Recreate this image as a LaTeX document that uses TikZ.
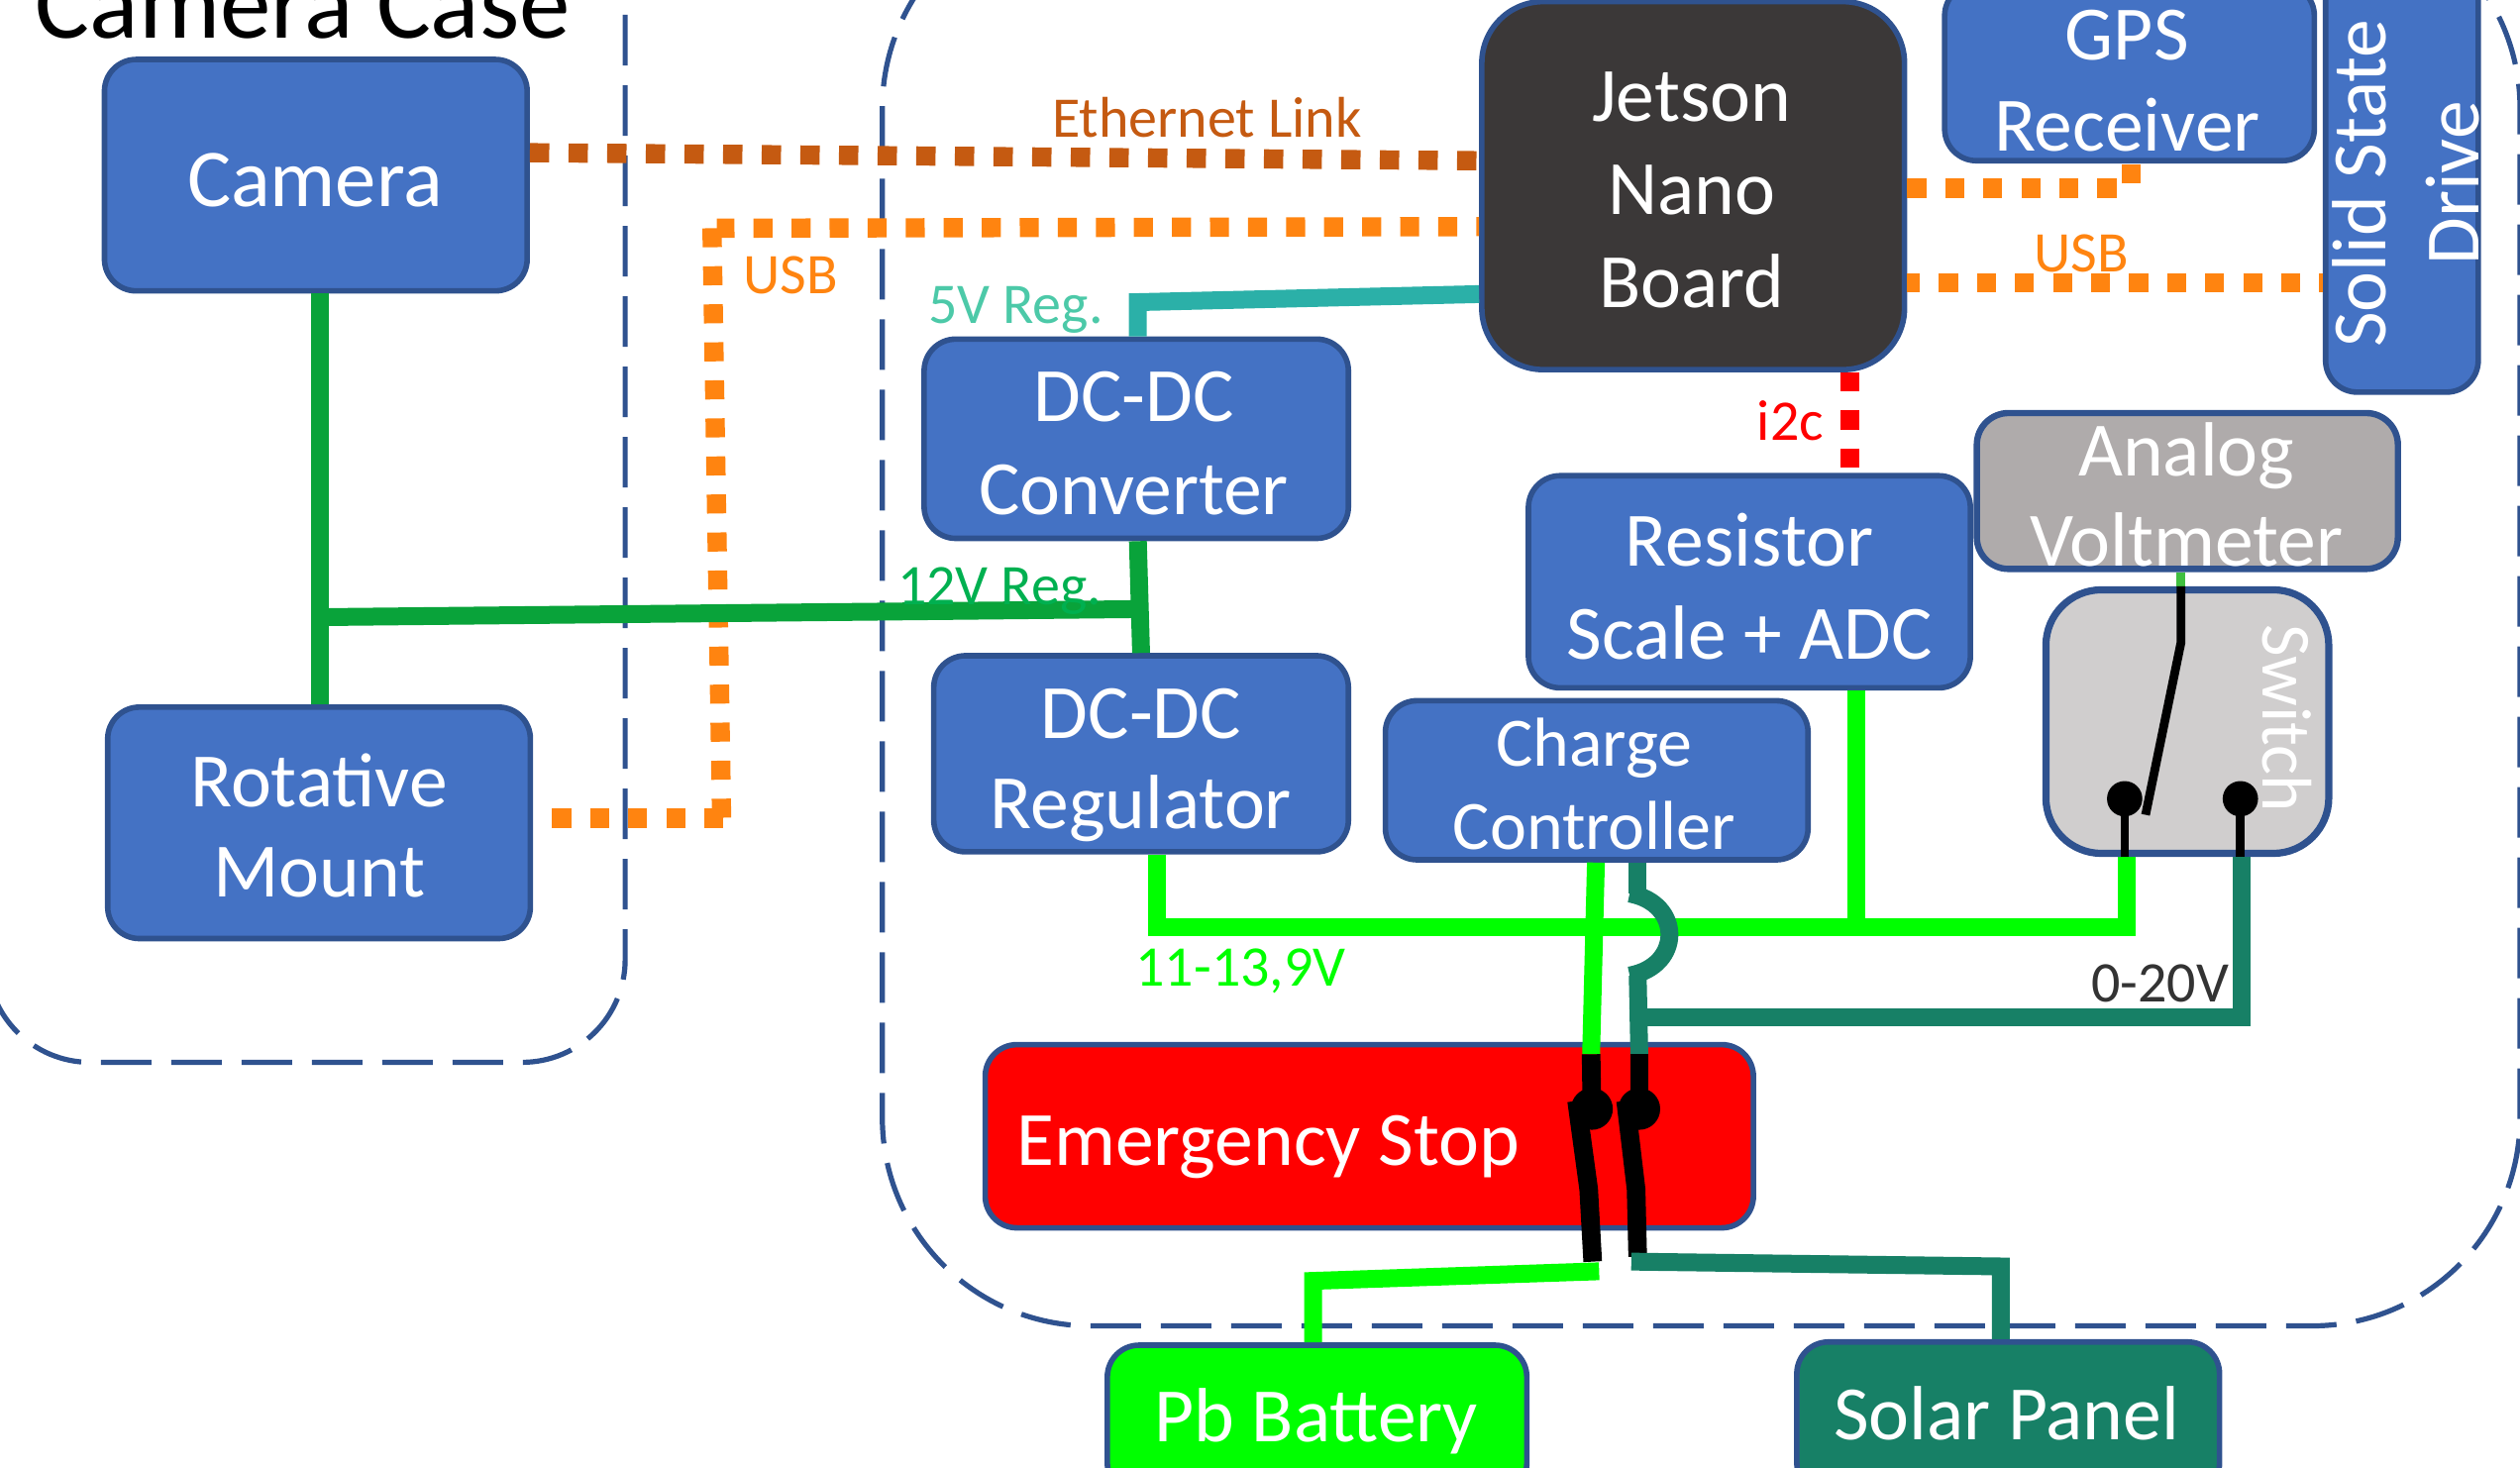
\documentclass[tikz,border=0pt]{standalone}
\usepackage{fontspec}
\setmainfont{Carlito}
\definecolor{boxblue}{HTML}{4472C4}
\definecolor{edgeblue}{HTML}{2F528F}
\definecolor{jetsongrey}{HTML}{3B3838}
\definecolor{metergrey}{HTML}{AFABAB}
\definecolor{switchgrey}{HTML}{D0CECE}
\definecolor{solarteal}{HTML}{178066}
\definecolor{eth}{HTML}{C55A11}
\definecolor{usb}{HTML}{FF8410}
\definecolor{reg5}{HTML}{2BB0A8}
\definecolor{reg5t}{HTML}{4CC9A8}
\definecolor{reg12}{HTML}{09A33A}
\definecolor{reg12t}{HTML}{00B050}
\definecolor{lime}{HTML}{00FF00}
\tikzset{
  box/.style={draw=edgeblue,line width=2.8pt,fill=boxblue,rounded corners=16pt,inner sep=0pt},
  boxtext/.style={inner sep=0pt,text=white,align=center,font=\fontsize{38.8}{47}\selectfont},
  case/.style={draw=edgeblue,line width=2.6pt,dash pattern=on 25.5pt off 10pt},
  dotted12/.style={line width=9.7pt,dash pattern=on 9.6pt off 9.6pt},
  wire/.style={line width=9pt,line join=miter},
  blackwire/.style={line width=9.4pt,draw=black},
  thinblack/.style={line width=4.4pt,draw=black},
  lbl/.style={inner sep=0pt,font=\fontsize{29}{34}\selectfont}
}
\begin{document}
\begin{tikzpicture}[x=0.8112pt,y=-0.8112pt]
\clip (0,0) rectangle (1568,912.9);
% enclosures
\draw[case,rounded corners=52pt] (-8,-60) rectangle (389,661);
\draw[case,rounded corners=105pt] (549,-62) rectangle (1568,825);
% boxes
\node[box,minimum width={263*0.8112pt},minimum height={144*0.8112pt}] (camera) at (196.5,109) {};
\node[box,minimum width={263*0.8112pt},minimum height={144*0.8112pt}] (rotative) at (198.5,512) {};
\node[box,fill=jetsongrey,rounded corners=31pt,minimum width={263*0.8112pt},minimum height={229*0.8112pt}] (jetson) at (1053.5,115.5) {};
\node[box,minimum width={230*0.8112pt},minimum height={110*0.8112pt}] (gps) at (1325,45) {};
\node[box,minimum width={95*0.8112pt},minimum height={264*0.8112pt}] (ssd) at (1494.5,112) {};
\node[box,minimum width={264*0.8112pt},minimum height={124*0.8112pt}] (conv) at (707,273) {};
\node[box,minimum width={258*0.8112pt},minimum height={122*0.8112pt}] (reg) at (710,469) {};
\node[box,minimum width={263*0.8112pt},minimum height={99*0.8112pt}] (charge) at (993.5,485.5) {};
\node[box,minimum width={275*0.8112pt},minimum height={132*0.8112pt}] (adc) at (1088.5,362) {};
\node[box,fill=metergrey,line width=3.2pt,minimum width={262*0.8112pt},minimum height={97*0.8112pt}] (meter) at (1361,305.5) {};
\node[box,fill=switchgrey,line width=3.6pt,rounded corners=28pt,minimum width={176*0.8112pt},minimum height={164*0.8112pt}] (switch) at (1361,449) {};
\node[box,fill=red,minimum width={478*0.8112pt},minimum height={114*0.8112pt}] (stop) at (852,707) {};
\node[box,fill=lime,minimum width={261*0.8112pt},minimum height={93*0.8112pt}] (battery) at (819.5,883.5) {};
\node[box,fill=solarteal,minimum width={263*0.8112pt},minimum height={95*0.8112pt}] (solar) at (1249.5,882.5) {};
% junction and free-end coordinates
\coordinate (j12) at (199,384);
\coordinate (k12) at (708,379);
\coordinate (g1) at (720,577);
\coordinate (g2) at (1323,577);
\coordinate (g3) at (1155,577);
\coordinate (t1) at (1020,633);
\coordinate (t2) at (1395,633);
\coordinate (e1) at (990,656);
\coordinate (e2) at (1020,656);
\coordinate (c1) at (990.5,690);
\coordinate (c2) at (1020,690);
\coordinate (o1) at (991,785);
\coordinate (o2) at (1019,782);
\coordinate (uc) at (443,142);
\coordinate (ud) at (449,509);
% data links
\draw[dotted12,eth,dash pattern=on 9.75pt off 9.75pt] (camera.east |- 0,95) -- (jetson.west |- 0,100);
\draw[dotted12,usb,dash phase=8.2pt] (jetson.west |- 0,141) -- (446,142);
\draw[dotted12,usb] (uc) -- (ud);
\draw[dotted12,usb,dash phase=9.6pt] (rotative.east |- ud) -- (455,509);
\draw[dotted12,usb] (jetson.east |- 0,117) -- (1326,117) -- (gps.south -| 1326,0);
\draw[dotted12,usb,dash phase=3.2pt] (jetson.east |- 0,176) -- (ssd.west |- 0,176);
\draw[dotted12,red] (jetson.south -| 1151,0) -- (adc.north -| 1151,0);
% 5 V and 12 V
\draw[wire,reg5] (jetson.west |- 0,183) -- (708,188) -- (conv.north -| 708,0);
\draw[wire,reg12] (camera.south -| j12) -- (rotative.north -| j12);
\draw[wire,reg12] (j12) -- (k12);
\draw[wire,reg12] (conv.south -| k12) -- (reg.north -| 710,0);
% battery bus
\draw[wire,lime] (reg.south -| g1) -- (g1) -- (g2) -- (switch.south -| g2);
\draw[wire,lime] (adc.south -| g3) -- (g3);
\draw[wire,lime] (charge.south -| 993,0) -- (e1);
% solar bus
\draw[wire,solarteal] (charge.south -| 1019,0) -- (1019,556);
\draw[wire,solarteal] (1014,556) .. controls (1047,562) and (1047,601) .. (1014,607);
\draw[wire,solarteal] (1019,607) -- (e2);
\draw[wire,solarteal] (t1) -- (t2) -- (switch.south -| t2);
% emergency stop contacts
\draw[blackwire] (e1) -- (c1);
\draw[blackwire] (e2) -- (c2);
\fill[black] (c1) circle[radius=13];
\fill[black] (c2) circle[radius=13];
\draw[blackwire] (981,685) -- (988.5,740) -- (o1);
\draw[blackwire] (1011.5,685) -- (1018,740) -- (o2);
\draw[wire,lime] (995,791) -- (817,797) -- (battery.north -| 817,0);
\draw[wire,solarteal] (1015,785) -- (1245,788) -- (solar.north -| 1245,0);
% switch contacts
\draw[line width=4.2pt,draw=green!50!gray] (meter.south -| 1357,0) -- (switch.north -| 1357,0);
\coordinate (s1) at (1322,497);
\coordinate (s2) at (1394,497);
\draw[thinblack] (switch.north -| 1357,0) -- (1357,400) -- (1335,507);
\fill[black] (s1) circle[radius=11];
\fill[black] (s2) circle[radius=11];
\draw[thinblack] (s1) -- (switch.south -| s1);
\draw[thinblack] (s2) -- (switch.south -| s2);
% box texts
\node[boxtext,font=\fontsize{41.4}{47}\selectfont] (cameratext) at (196,112) {Camera};
\node[boxtext,font=\fontsize{38.8}{45.5}\selectfont] (rotativetext) at (198.5,514) {Rotative\\Mount};
\node[boxtext] (jetsontext) at (1052.5,118.5) {Jetson\\Nano\\Board};
\node[boxtext,font=\fontsize{38.8}{46}\selectfont] (gpstext) at (1323.5,50.5) {GPS\\Receiver};
\node[boxtext,rotate=90] (ssdtext) at (1497,114) {Solid State\\Drive};
\node[boxtext] (convtext) at (705.5,276) {DC-DC\\Converter};
\node[boxtext,font=\fontsize{38.8}{45.4}\selectfont] (regtext) at (710,476) {DC-DC\\Regulator};
\node[boxtext,font=\fontsize{35}{42}\selectfont] (chargetext) at (992,488) {Charge\\Controller};
\node[boxtext] (adctext) at (1088.5,365) {Resistor\\Scale + ADC};
\node[boxtext,font=\fontsize{38.8}{45.4}\selectfont] (metertext) at (1360.5,308) {Analog\\Voltmeter};
\node[inner sep=0pt,text=white,rotate=-90,font=\fontsize{35.5}{40}\selectfont] (switchtext) at (1423,447) {Switch};
\node[boxtext] (stoptext) at (789,714) {Emergency Stop};
\node[boxtext] (batterytext) at (819,884.5) {Pb Battery};
\node[boxtext] (solartext) at (1248.5,879.5) {Solar Panel};
% labels
\node[inner sep=0pt,anchor=base,text=black,font=\fontsize{51.5}{60}\selectfont] (title) at (188.5,24) {Camera Case};
\node[lbl,text=eth] (ethlbl) at (751,73) {Ethernet Link};
\node[lbl,text=usb] (usba) at (492,171) {USB};
\node[lbl,text=usb] (usbb) at (1295,158) {USB};
\node[lbl,text=reg5t] (v5) at (632,193) {5V Reg.};
\node[lbl,text=reg12t] (v12) at (622,368) {12V Reg.};
\node[lbl,text=red] (i2c) at (1114,262) {i2c};
\node[lbl,text=lime] (v11) at (772,604) {11-13,9V};
\node[lbl,text=black!80] (v20) at (1344,612) {0-20V};
\end{tikzpicture}
\end{document}
